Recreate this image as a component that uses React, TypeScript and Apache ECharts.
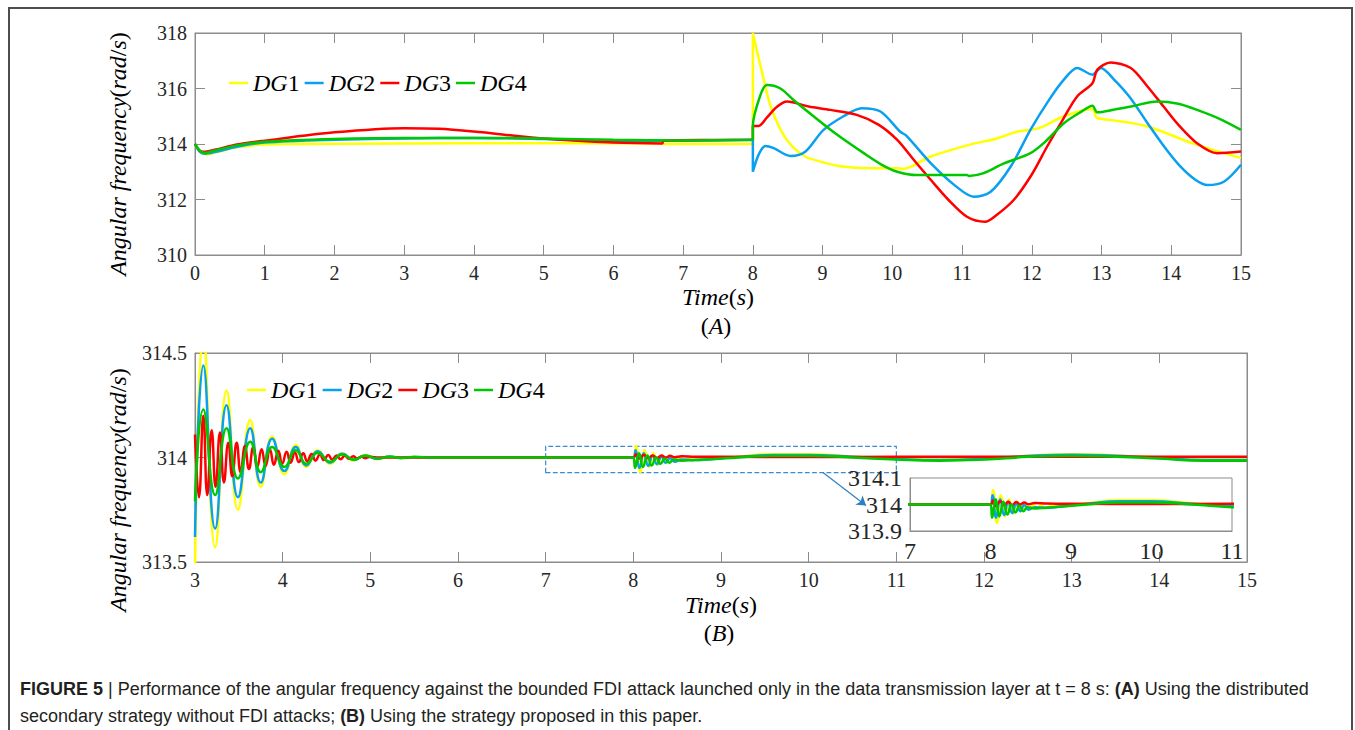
import React, { useEffect, useRef } from "react";
import * as echarts from "echarts";

const NAMES = ["DG1", "DG2", "DG3", "DG4"];
const COLORS = ["#FFFF00", "#0AA0F0", "#FF0000", "#00C800"];

// ---- Panel (A): distributed secondary strategy without FDI attacks ----
const A_X_TICKS = { min: 0, max: 15, interval: 1 };
const A_Y_TICKS = { min: 310, max: 318, interval: 2 };

const A_DG1: (number | null)[][] = [
  [0, 314.0], [0.07, 313.72], [0.15, 313.62], [0.3, 313.7], [0.6, 313.88], [1, 313.98], [1.5, 314.0],
  [3, 314.02], [5, 314.03], [6.7, 314.02], [6.72, 314.0], [8, 314.0], [8, null],
  [8, 314.0], [8, 318.0], [8.12, 316.7], [8.25, 315.4], [8.4, 314.5], [8.55, 313.95], [8.75, 313.55],
  [8.95, 313.38], [9.25, 313.2], [9.7, 313.13], [10.1, 313.13], [10.15, 313.1], [10.55, 313.55],
  [11.1, 313.97], [11.5, 314.2], [11.8, 314.45], [12.1, 314.57], [12.46, 315.0], [12.87, 315.26],
  [12.93, 314.95], [13.13, 314.87], [13.66, 314.63], [14.3, 314.03], [15, 313.49],
];
const A_DG2: (number | null)[][] = [
  [0, 314.0], [0.07, 313.72], [0.15, 313.65], [0.3, 313.72], [0.6, 313.9], [1, 314.05], [2, 314.15],
  [3, 314.2], [4, 314.22], [5, 314.18], [6, 314.12], [7, 314.12], [8, 314.15], [8, null],
  [8, 314.15], [8, 313.0], [8.08, 313.6], [8.18, 313.93], [8.3, 313.85], [8.54, 313.57], [8.75, 313.72],
  [9.01, 314.5], [9.3, 315.0], [9.56, 315.29], [9.83, 315.17], [10.11, 314.45], [10.2, 314.3],
  [10.55, 313.31], [10.9, 312.5], [11.17, 312.1], [11.41, 312.28], [11.7, 313.2], [11.98, 314.51],
  [12.25, 315.6], [12.46, 316.32], [12.65, 316.74], [12.87, 316.5], [12.99, 316.74], [13.18, 316.32],
  [13.4, 315.7], [13.66, 314.75], [13.9, 313.9], [14.13, 313.19], [14.35, 312.7], [14.52, 312.52],
  [14.76, 312.65], [15, 313.25],
];
const A_DG3: (number | null)[][] = [
  [0, 314.0], [0.07, 313.76], [0.15, 313.72], [0.3, 313.8], [0.6, 313.98], [1, 314.12], [2, 314.42],
  [3, 314.57], [3.5, 314.55], [4, 314.45], [5, 314.2], [6, 314.05], [6.7, 314.02], [6.72, 314.12],
  [8, 314.15], [8, null],
  [8, 314.15], [8, 314.65], [8.08, 314.65], [8.2, 314.95], [8.35, 315.35], [8.49, 315.53], [8.8, 315.35],
  [9.11, 315.23], [9.49, 315.05], [9.8, 314.7], [10.07, 314.15], [10.3, 313.45], [10.55, 312.71],
  [10.8, 312.0], [11.07, 311.38], [11.33, 311.2], [11.5, 311.45], [11.74, 311.98], [12.0, 312.9],
  [12.22, 313.91], [12.45, 314.9], [12.65, 315.71], [12.87, 316.19], [12.94, 316.68], [13.13, 316.94],
  [13.42, 316.74], [13.65, 316.1], [13.89, 315.35], [14.1, 314.7], [14.37, 314.03], [14.66, 313.67],
  [15, 313.73],
];
const A_DG4: (number | null)[][] = [
  [0, 314.0], [0.07, 313.76], [0.15, 313.68], [0.3, 313.78], [0.6, 313.95], [1, 314.08], [2, 314.18],
  [3, 314.22], [4, 314.22], [5, 314.2], [6, 314.15], [7, 314.13], [8, 314.15], [8, null],
  [8, 314.15], [8, 314.65], [8.1, 315.7], [8.2, 316.13], [8.39, 316.01], [8.6, 315.55], [8.87, 315.0],
  [9.2, 314.35], [9.59, 313.67], [9.85, 313.25], [10.07, 313.0], [10.35, 312.88], [11.07, 312.88],
  [11.1, 312.85], [11.31, 312.95], [11.6, 313.3], [11.98, 313.67], [12.2, 314.1], [12.46, 314.75],
  [12.7, 315.15], [12.87, 315.38], [12.94, 315.14], [13.2, 315.25], [13.42, 315.35], [13.8, 315.53],
  [14.1, 315.45], [14.37, 315.23], [14.7, 314.9], [15, 314.51],
];

// ---- Panel (B): proposed strategy ----
const B_X_TICKS = { min: 3, max: 15, interval: 1 };
const B_Y_TICKS = { min: 313.5, max: 314.5, interval: 0.5 };
const INSET_X_TICKS = { min: 7, max: 11, interval: 1 };
const INSET_Y_TICKS = { min: 313.9, max: 314.1, interval: 0.1 };

const B_DG1: number[][] = [
  [3.0, 313.45], [3.095, 314.6], [3.23, 313.57], [3.36, 314.32], [3.49, 313.75], [3.63, 314.18],
  [3.75, 313.86], [3.88, 314.1], [4.02, 313.92], [4.15, 314.06], [4.27, 313.955], [4.4, 314.035],
  [4.54, 313.97], [4.68, 314.02], [4.81, 313.985], [4.94, 314.012], [5.08, 313.992], [5.22, 314.006],
  [5.35, 313.997], [5.5, 314.003], [5.7, 314.0], [8.0, 314.0],
  [8.03, 314.055], [8.08, 313.93], [8.13, 314.035], [8.18, 313.955], [8.23, 314.02], [8.28, 313.965],
  [8.33, 314.01], [8.38, 313.975], [8.43, 314.005], [8.48, 313.98], [8.53, 314.0], [8.58, 313.985],
  [8.63, 313.997], [8.68, 313.988], [8.75, 313.993], [8.9, 313.995], [9.2, 314.005], [9.6, 314.016],
  [10.0, 314.016], [10.5, 314.005], [11.0, 313.995], [11.5, 313.99], [12.0, 313.995], [12.5, 314.008],
  [13.0, 314.016], [13.5, 314.01], [14.0, 314.0], [14.5, 313.99], [15, 313.99],
];
const B_DG2: number[][] = [
  [3.0, 313.62], [3.095, 314.44], [3.23, 313.66], [3.36, 314.25], [3.49, 313.81], [3.63, 314.14],
  [3.75, 313.88], [3.88, 314.09], [4.02, 313.935], [4.15, 314.05], [4.27, 313.962], [4.4, 314.03],
  [4.54, 313.975], [4.68, 314.018], [4.81, 313.988], [4.94, 314.01], [5.08, 313.994], [5.22, 314.005],
  [5.35, 313.998], [5.5, 314.002], [5.7, 314.0], [8.0, 314.0],
  [8.025, 314.035], [8.07, 313.95], [8.12, 314.02], [8.17, 313.96], [8.22, 314.01], [8.27, 313.968],
  [8.32, 314.003], [8.37, 313.975], [8.42, 313.998], [8.47, 313.98], [8.55, 313.99], [8.7, 313.988],
  [8.9, 313.993], [9.2, 314.003], [9.6, 314.012], [10.0, 314.012], [10.5, 314.003], [11.0, 313.993],
  [11.5, 313.988], [12.0, 313.993], [12.5, 314.007], [13.0, 314.013], [13.5, 314.008], [14.0, 313.998],
  [14.5, 313.988], [15, 313.988],
];
const B_DG3: number[][] = [
  [3.0, 314.11], [3.045, 313.81], [3.095, 314.2], [3.14, 313.82], [3.19, 314.13], [3.235, 313.86],
  [3.285, 314.12], [3.33, 313.88], [3.38, 314.07], [3.425, 313.91], [3.475, 314.07], [3.52, 313.93],
  [3.57, 314.055], [3.615, 313.945], [3.665, 314.05], [3.71, 313.955], [3.76, 314.04], [3.805, 313.96],
  [3.855, 314.038], [3.9, 313.965], [3.95, 314.032], [3.995, 313.97], [4.045, 314.028], [4.09, 313.975],
  [4.14, 314.024], [4.185, 313.978], [4.235, 314.02], [4.28, 313.982], [4.33, 314.017], [4.375, 313.985],
  [4.425, 314.014], [4.47, 313.988], [4.52, 314.012], [4.565, 313.99], [4.615, 314.01], [4.66, 313.992],
  [4.71, 314.008], [4.755, 313.994], [4.805, 314.006], [4.85, 313.996], [4.9, 314.004], [4.945, 313.997],
  [5.0, 314.003], [5.1, 314.0], [8.0, 314.0],
  [8.03, 314.015], [8.07, 313.995], [8.12, 314.012], [8.17, 313.997], [8.22, 314.01], [8.27, 313.998],
  [8.32, 314.009], [8.37, 314.0], [8.42, 314.008], [8.47, 314.001], [8.55, 314.006], [8.7, 314.004],
  [9.0, 314.003], [10.0, 314.002], [11.0, 314.003], [12.0, 314.004], [13.0, 314.004], [14.0, 314.004],
  [15, 314.004],
];
const B_DG4: number[][] = [
  [3.0, 313.79], [3.095, 314.23], [3.23, 313.82], [3.36, 314.14], [3.49, 313.9], [3.63, 314.075],
  [3.75, 313.93], [3.88, 314.05], [4.02, 313.955], [4.15, 314.035], [4.27, 313.97], [4.4, 314.022],
  [4.54, 313.98], [4.68, 314.014], [4.81, 313.99], [4.94, 314.008], [5.08, 313.995], [5.22, 314.004],
  [5.35, 313.998], [5.5, 314.002], [5.7, 314.0], [8.0, 314.0],
  [8.02, 313.95], [8.065, 314.02], [8.11, 313.955], [8.16, 314.01], [8.21, 313.962], [8.26, 314.0],
  [8.31, 313.97], [8.36, 313.995], [8.41, 313.975], [8.46, 313.99], [8.55, 313.985], [8.7, 313.988],
  [8.9, 313.992], [9.2, 314.0], [9.6, 314.008], [10.0, 314.008], [10.5, 314.0], [11.0, 313.99],
  [11.5, 313.985], [12.0, 313.99], [12.5, 314.003], [13.0, 314.008], [13.5, 314.004], [14.0, 313.995],
  [14.5, 313.985], [15, 313.985],
];

// zoom box and arrow (data coordinates of panel B)
const ZOOM_BOX = [[7, 313.928], [11, 314.053]];
const ZOOM_ARROW = [[10.163, 313.928], [10.654, 313.77]];

const A_SERIES = [A_DG1, A_DG2, A_DG3, A_DG4];
const B_SERIES = [B_DG1, B_DG2, B_DG3, B_DG4];

const SERIF = "Liberation Serif";
const AX_COLOR = "#8c8c8c";
const LABEL_COLOR = "#262626";

function mathRich(size: number) {
  return {
    i: { fontFamily: SERIF, fontStyle: "italic", fontSize: size, fill: "#000", color: "#000" },
    u: { fontFamily: SERIF, fontSize: size, fill: "#000", color: "#000" },
  };
}

function xAxisMain(gridIndex: number, t: any, position: string, labels: boolean, fontSize = 20) {
  return {
    type: "value",
    gridIndex,
    position,
    min: t.min,
    max: t.max,
    interval: t.interval,
    axisLine: { show: true, onZero: false, lineStyle: { color: AX_COLOR, width: 1 } },
    axisTick: { show: true, inside: true, length: 10, lineStyle: { color: AX_COLOR } },
    axisLabel: { show: labels, color: LABEL_COLOR, fontFamily: SERIF, fontSize, margin: 8 },
    splitLine: { show: false },
  };
}
function yAxisMain(gridIndex: number, t: any, position: string, labels: boolean, fontSize = 20, dec = 1) {
  return {
    type: "value",
    gridIndex,
    position,
    min: t.min,
    max: t.max,
    interval: t.interval,
    axisLine: { show: true, onZero: false, lineStyle: { color: AX_COLOR, width: 1 } },
    axisTick: { show: true, inside: true, length: 10, lineStyle: { color: AX_COLOR } },
    axisLabel: {
      show: labels,
      color: LABEL_COLOR,
      fontFamily: SERIF,
      fontSize,
      margin: 8,
      formatter: (v: number) => String(Math.round(v * Math.pow(10, dec)) / Math.pow(10, dec)),
    },
    splitLine: { show: false },
  };
}

function legendCfg(left: number, top: number) {
  return {
    data: NAMES,
    left,
    top,
    padding: 0,
    icon: "rect",
    itemWidth: 19,
    itemHeight: 2.5,
    itemGap: 5,
    selectedMode: false,
    formatter: (name: string) => `{i|DG}{n|${name.slice(2)}}`,
    textStyle: {
      color: "#000",
      rich: {
        i: { fontFamily: SERIF, fontStyle: "italic", fontSize: 24, color: "#000" },
        n: { fontFamily: SERIF, fontSize: 24, color: "#000" },
      },
    },
  };
}

function mathText(x: number, y: number, text: string, size: number, rotation = 0) {
  return {
    type: "text",
    x,
    y,
    rotation,
    silent: true,
    style: {
      text,
      rich: mathRich(size),
      align: "center",
      verticalAlign: "middle",
      fill: "#000",
    },
  };
}

const CAPTION_FONT = 18;

export default function App() {
  const ref = useRef<HTMLDivElement>(null);
  useEffect(() => {
    if (!ref.current) return;
    const chart = echarts.init(ref.current, undefined, { renderer: "svg" });

    const series: any[] = [];
    A_SERIES.forEach((d, i) =>
      series.push({
        type: "line",
        name: NAMES[i],
        xAxisIndex: 0,
        yAxisIndex: 0,
        data: d,
        showSymbol: false,
        smooth: 0.3,
        lineStyle: { width: 2.5, color: COLORS[i] },
        itemStyle: { color: COLORS[i] },
      })
    );
    B_SERIES.forEach((d, i) => {
      const s: any = {
        type: "line",
        name: NAMES[i],
        xAxisIndex: 2,
        yAxisIndex: 2,
        data: d,
        showSymbol: false,
        smooth: 0.5,
        lineStyle: { width: 2.5, color: COLORS[i] },
        itemStyle: { color: COLORS[i] },
      };
      if (i === 0) {
        s.markArea = {
          silent: true,
          itemStyle: { color: "rgba(0,0,0,0)", borderColor: "#3a8bd0", borderWidth: 1.2, borderType: "dashed" },
          data: [[{ coord: ZOOM_BOX[0] }, { coord: ZOOM_BOX[1] }]],
        };
      }
      if (i === 1) {
        s.markLine = {
          silent: true,
          symbol: ["none", "arrow"],
          symbolSize: 9,
          label: { show: false },
          lineStyle: { color: "#2f7fc1", width: 1.2, type: "solid" },
          data: [[{ coord: ZOOM_ARROW[0] }, { coord: ZOOM_ARROW[1] }]],
        };
      }
      series.push(s);
    });
    B_SERIES.forEach((d, i) =>
      series.push({
        type: "line",
        name: NAMES[i],
        xAxisIndex: 4,
        yAxisIndex: 4,
        data: d,
        showSymbol: false,
        smooth: 0.5,
        clip: true,
        lineStyle: { width: 2.5, color: COLORS[i] },
        itemStyle: { color: COLORS[i] },
        z: 5,
      })
    );

    const captionRich = {
      b: { fontFamily: "Liberation Sans", fontSize: CAPTION_FONT, fontWeight: "bold", fill: "#231f20" },
    };

    chart.setOption({
      animation: false,
      backgroundColor: "#ffffff",
      grid: [
        { left: 195, top: 33, width: 1046, height: 222, show: true, borderColor: AX_COLOR, borderWidth: 1, backgroundColor: "#fff" },
        { left: 195, top: 353, width: 1052, height: 209, show: true, borderColor: AX_COLOR, borderWidth: 1, backgroundColor: "#fff" },
        { left: 910, top: 478, width: 322, height: 53, show: true, borderColor: AX_COLOR, borderWidth: 1, backgroundColor: "#fff", z: 4 },
      ],
      xAxis: [
        xAxisMain(0, A_X_TICKS, "bottom", true),
        xAxisMain(0, A_X_TICKS, "top", false),
        xAxisMain(1, B_X_TICKS, "bottom", true),
        xAxisMain(1, B_X_TICKS, "top", false),
        { ...xAxisMain(2, INSET_X_TICKS, "bottom", true, 24), axisTick: { show: false }, z: 5 },
      ],
      yAxis: [
        yAxisMain(0, A_Y_TICKS, "left", true),
        yAxisMain(0, A_Y_TICKS, "right", false),
        yAxisMain(1, B_Y_TICKS, "left", true),
        yAxisMain(1, B_Y_TICKS, "right", false),
        {
          ...yAxisMain(2, INSET_Y_TICKS, "left", true, 24, 1),
          axisTick: { show: false },
          z: 5,
        },
      ],
      legend: [legendCfg(229, 71), legendCfg(247, 378)],
      series,
      graphic: [
        {
          type: "rect",
          silent: true,
          shape: { x: 9, y: 8, width: 1343, height: 726 },
          style: { fill: "none", stroke: "#4d4d4d", lineWidth: 2 },
        },
        mathText(118, 154, "{i|Angular frequency}{u|(}{i|rad}{u|/}{i|s}{u|)}", 24, Math.PI / 2),
        mathText(118, 490, "{i|Angular frequency}{u|(}{i|rad}{u|/}{i|s}{u|)}", 24, Math.PI / 2),
        mathText(718, 297, "{i|Time}{u|(}{i|s}{u|)}", 24),
        mathText(716, 326, "{u|(}{i|A}{u|)}", 24),
        mathText(721, 605, "{i|Time}{u|(}{i|s}{u|)}", 24),
        mathText(719, 633, "{u|(}{i|B}{u|)}", 24),
        {
          type: "text",
          x: 20,
          y: 689,
          silent: true,
          style: {
            text:
              "{b|FIGURE 5} | Performance of the angular frequency against the bounded FDI attack launched only in the data transmission layer at t = 8 s: {b|(A)} Using the distributed",
            fontFamily: "Liberation Sans",
            fontSize: CAPTION_FONT,
            fill: "#231f20",
            verticalAlign: "middle",
            rich: captionRich,
          },
        },
        {
          type: "text",
          x: 20,
          y: 716,
          silent: true,
          style: {
            text: "secondary strategy without FDI attacks; {b|(B)} Using the strategy proposed in this paper.",
            fontFamily: "Liberation Sans",
            fontSize: CAPTION_FONT,
            fill: "#231f20",
            verticalAlign: "middle",
            rich: captionRich,
          },
        },
      ],
    });
    return () => chart.dispose();
  }, []);

  return (
    <div
      ref={ref}
      style={{ position: "fixed", left: 0, top: 0, width: 1355, height: 730, background: "#fff" }}
    />
  );
}
